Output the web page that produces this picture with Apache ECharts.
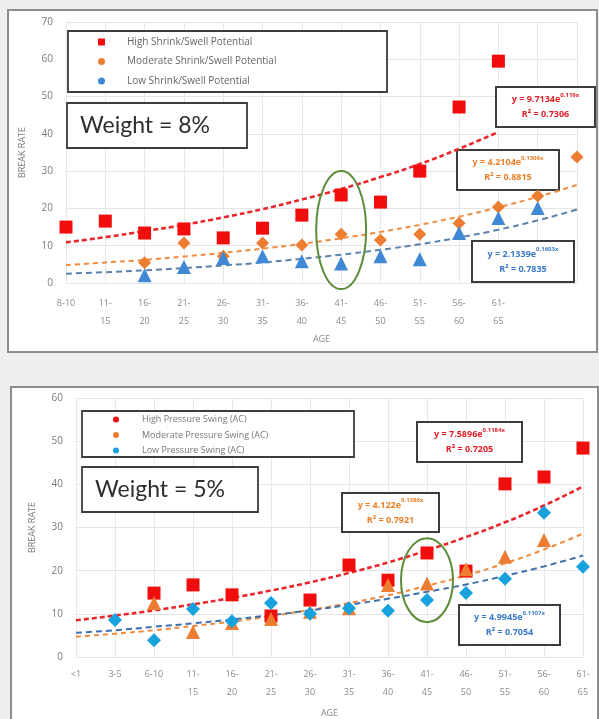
<!DOCTYPE html>
<html>
<head>
<meta charset="utf-8">
<script src="https://cdn.jsdelivr.net/npm/echarts@6/dist/echarts.min.js"></script>
<style>
    html, body { margin: 0; padding: 0; background: #efefed; }
    #chart { width: 599px; height: 719px; }
</style>
</head>
<body>
<div id="chart"></div>
<script>
// ---- weight = 8% panel ----
const topAges = ['8-10', '11-15', '16-20', '21-25', '26-30', '31-35', '36-40', '41-45', '46-50', '51-55', '56-60', '61-65', '', ' '];
const topHigh = [15.0, 16.6, 13.4, 14.5, 12.1, 14.7, 18.2, 23.6, 21.7, 30.0, 47.2, 59.5, '-', '-'];
const topModerate = ['-', '-', 5.4, 10.7, 7.2, 10.7, 10.2, 13.1, 11.5, 13.1, 16.0, 20.4, 23.3, 33.8];
const topLow = ['-', '-', 2.1, 4.3, 6.7, 7.2, 5.8, 5.2, 7.2, 6.4, 13.4, 17.4, 20.1, '-'];
const topHighTrend = [10.9, 12.3, 13.9, 15.6, 17.6, 19.8, 22.4, 25.2, 28.4, 31.9, 36.0, 40.5, '-', '-'];
const topModerateTrend = [4.8, 5.5, 6.2, 7.1, 8.1, 9.2, 10.5, 12.0, 13.7, 15.6, 17.8, 20.3, 23.1, 26.3];
const topLowTrend = [2.5, 2.9, 3.4, 4.0, 4.7, 5.5, 6.5, 7.6, 8.9, 10.4, 12.2, 14.3, 16.8, 19.7];
const topYTicks = [0, 70, 10];

// ---- weight = 5% panel ----
const botAges = ['<1', '3-5', '6-10', '11-15', '16-20', '21-25', '26-30', '31-35', '36-40', '41-45', '46-50', '51-55', '56-60', '61-65'];
const botHigh = ['-', '-', 14.8, 16.7, 14.4, 9.5, 13.2, 21.3, 17.8, 24.1, 19.9, 40.1, 41.7, 48.4];
const botModerate = ['-', '-', 12.5, 5.8, 7.9, 8.8, 10.5, 11.3, 16.7, 17.0, 20.3, 23.2, 27.1, '-'];
const botLow = ['-', 8.6, 3.9, 11.1, 8.3, 12.5, 10.0, 11.3, 10.7, 13.2, 14.8, 18.1, 33.4, 20.9];
const botHighTrend = [8.5, 9.6, 10.8, 12.2, 13.7, 15.4, 17.3, 19.5, 21.9, 24.7, 27.8, 31.2, 35.1, 39.5];
const botModerateTrend = [4.7, 5.4, 6.2, 7.2, 8.2, 9.5, 10.9, 12.5, 14.3, 16.5, 18.9, 21.7, 24.9, 28.6];
const botLowTrend = [5.6, 6.2, 7.0, 7.8, 8.7, 9.7, 10.8, 12.1, 13.5, 15.1, 16.8, 18.8, 21.0, 23.5];
const botYTicks = [0, 60, 10];

const topNames = ['High Shrink/Swell Potential', 'Moderate Shrink/Swell Potential', 'Low Shrink/Swell Potential'];
const botNames = ['High Pressure Swing (AC)', 'Moderate Pressure Swing (AC)', 'Low Pressure Swing (AC)'];

const RED = '#f20d0d', ORANGE = '#ed7d31', BLUE = '#3f88d6', CYAN = '#17a2dd';
const font = '"Open Sans", "Noto Sans", sans-serif';

// "11-15" -> "11-\n15", short ones stay on one line
function ageLabel(v) {
    const p = v.split('-');
    return p.length === 2 && p[0].length > 1 ? p[0] + '-\n' + p[1] : v;
}

function xAxisFor(gridIndex, cats, margin) {
    return {
        type: 'category', gridIndex: gridIndex, data: cats, boundaryGap: false,
        name: 'AGE', nameLocation: 'middle', nameGap: 52,
        nameTextStyle: { color: '#888', fontSize: 9, fontFamily: font },
        axisLine: { show: false }, axisTick: { show: false },
        axisLabel: { color: '#8a8a8a', fontSize: 9, lineHeight: 18, margin: margin, interval: 0, formatter: ageLabel, fontFamily: font },
        splitLine: { show: true, lineStyle: { color: '#e8e8e8' } }
    };
}

function yAxisFor(gridIndex, ticks) {
    return {
        type: 'value', gridIndex: gridIndex, min: ticks[0], max: ticks[1], interval: ticks[2],
        name: 'BREAK RATE', nameLocation: 'middle', nameGap: 39,
        nameTextStyle: { color: '#777', fontSize: 9, fontFamily: font },
        axisLine: { show: false }, axisTick: { show: false },
        axisLabel: { color: '#7a7a7a', fontSize: 10, margin: 13, fontFamily: font },
        splitLine: { lineStyle: { color: '#e4e4e4' } }
    };
}

function scatter(name, data, idx, symbol, size, color) {
    return {
        name: name, type: 'scatter', xAxisIndex: idx, yAxisIndex: idx, data: data,
        symbol: symbol, symbolSize: size, itemStyle: { color: color, opacity: 1 }, z: 5
    };
}

function trend(data, idx, color, width, dash) {
    return {
        type: 'line', xAxisIndex: idx, yAxisIndex: idx, data: data, smooth: true,
        symbol: 'none', silent: true, z: 4,
        lineStyle: { color: color, width: width, type: dash }
    };
}

function box(x, y, w, h, z) {
    return { type: 'rect', x: x, y: y, z: z, shape: { width: w, height: h }, style: { fill: '#fff', stroke: '#3c3c3c', lineWidth: 1.8 } };
}

function eqBox(x, y, w, h, coef, expo, r2, color) {
    return {
        type: 'group', x: x, y: y, z: 20,
        children: [
            { type: 'rect', shape: { width: w, height: h }, style: { fill: '#fff', stroke: '#3c3c3c', lineWidth: 2 } },
            {
                type: 'text', x: w / 2, y: h / 2,
                style: {
                    text: '{m|y = ' + coef + 'e}{s|' + expo + '}\n{m|R² = ' + r2 + '}',
                    align: 'center', verticalAlign: 'middle',
                    rich: {
                        m: { fontSize: 9, fontWeight: 'bold', fill: color, lineHeight: 15, fontFamily: font },
                        s: { fontSize: 6, fontWeight: 'bold', fill: color, lineHeight: 15, verticalAlign: 'top', fontFamily: font }
                    }
                }
            }
        ]
    };
}

function weightBox(x, y, w, h, label) {
    return {
        type: 'group', x: x, y: y, z: 10,
        children: [
            { type: 'rect', shape: { width: w, height: h }, style: { fill: '#fff', stroke: '#3c3c3c', lineWidth: 1.8 } },
            { type: 'text', x: 13, y: h / 2, style: { text: label, fontSize: 23, fill: '#2e2e2e', fontFamily: 'Lato, "Open Sans", sans-serif', verticalAlign: 'middle' } }
        ]
    };
}

const chart = echarts.init(document.getElementById('chart'));

const option = {
    backgroundColor: '#efefed',
    animation: false,
    grid: [
        { left: 66, top: 22, width: 511, height: 261 },
        { left: 76, top: 398, width: 507, height: 259 }
    ],
    xAxis: [xAxisFor(0, topAges, 11), xAxisFor(1, botAges, 8)],
    yAxis: [yAxisFor(0, topYTicks), yAxisFor(1, botYTicks)],
    legend: [
        {
            orient: 'vertical', left: 93, top: 31, itemWidth: 7, itemHeight: 7, itemGap: 7.5, z: 12,
            selectedMode: false,
            textStyle: { color: '#666', fontSize: 10, lineHeight: 12, padding: [0, 0, 0, 17], fontFamily: font },
            data: [
                { name: topNames[0], icon: 'rect' },
                { name: topNames[1], icon: 'circle' },
                { name: topNames[2], icon: 'circle' }
            ]
        },
        {
            orient: 'vertical', left: 108, top: 409, itemWidth: 6, itemHeight: 6, itemGap: 4.5, z: 12,
            selectedMode: false,
            textStyle: { color: '#777', fontSize: 9, lineHeight: 11, padding: [0, 0, 0, 18], fontFamily: font },
            data: [
                { name: botNames[0], icon: 'circle' },
                { name: botNames[1], icon: 'circle' },
                { name: botNames[2], icon: 'circle' }
            ]
        }
    ],
    series: [
        trend(topHighTrend, 0, '#e8262c', 2.6, [5, 3]),
        trend(topModerateTrend, 0, '#f08a3c', 2, [5, 4]),
        trend(topLowTrend, 0, '#5a82ad', 2, [6, 4]),
        scatter(topNames[0], topHigh, 0, 'rect', 13, RED),
        scatter(topNames[1], topModerate, 0, 'diamond', 13, ORANGE),
        scatter(topNames[2], topLow, 0, 'triangle', 14, BLUE),

        trend(botHighTrend, 1, '#e8262c', 2.6, [5, 3]),
        trend(botModerateTrend, 1, '#f08a3c', 2, [5, 4]),
        trend(botLowTrend, 1, '#3d70ad', 2, [6, 4]),
        scatter(botNames[0], botHigh, 1, 'rect', 13, RED),
        scatter(botNames[1], botModerate, 1, 'triangle', 14, ORANGE),
        scatter(botNames[2], botLow, 1, 'diamond', 14, CYAN)
    ]
};
chart.setOption(option);

// circle around the 41-45 group, anchored to the axes
const c1 = chart.convertToPixel({ gridIndex: 0 }, [7, 14.2]);
const c2 = chart.convertToPixel({ gridIndex: 1 }, [9, 17.8]);

chart.setOption({
    graphic: [
        // panels
        { type: 'rect', x: 8, y: 10, z: -10, shape: { width: 589, height: 342 }, style: { fill: '#fff', stroke: '#8c8c8c', lineWidth: 2 } },
        { type: 'rect', x: 11, y: 387, z: -10, shape: { width: 587, height: 345 }, style: { fill: '#fff', stroke: '#8c8c8c', lineWidth: 2 } },
        // legend frames
        box(68, 31, 319, 61, 8),
        box(82, 411, 272, 46, 8),
        weightBox(67, 103, 180, 45, 'Weight = 8%'),
        weightBox(82, 467, 176, 45, 'Weight = 5%'),
        // trendline equations
        eqBox(496, 87, 99, 40, '9.7134', '0.119x', '0.7306', '#e0202a'),
        eqBox(457, 150, 102, 40, '4.2104', '0.1309x', '0.8815', '#e8802a'),
        eqBox(472, 241, 102, 41, '2.1339', '0.1603x', '0.7835', '#3a7ac8'),
        eqBox(417, 422, 105, 40, '7.5896', '0.1184x', '0.7205', '#e0202a'),
        eqBox(342, 493, 97, 39, '4.122', '0.1386x', '0.7921', '#e8802a'),
        eqBox(459, 605, 101, 40, '4.9945', '0.1107x', '0.7054', '#3a7ac8'),
        { type: 'ellipse', z: 15, shape: { cx: c1[0], cy: c1[1], rx: 25, ry: 59 }, style: { fill: 'none', stroke: '#5d8c3a', lineWidth: 2 } },
        { type: 'ellipse', z: 15, shape: { cx: c2[0], cy: c2[1], rx: 26, ry: 42 }, style: { fill: 'none', stroke: '#5d8c3a', lineWidth: 2 } }
    ]
});
</script>
</body>
</html>
